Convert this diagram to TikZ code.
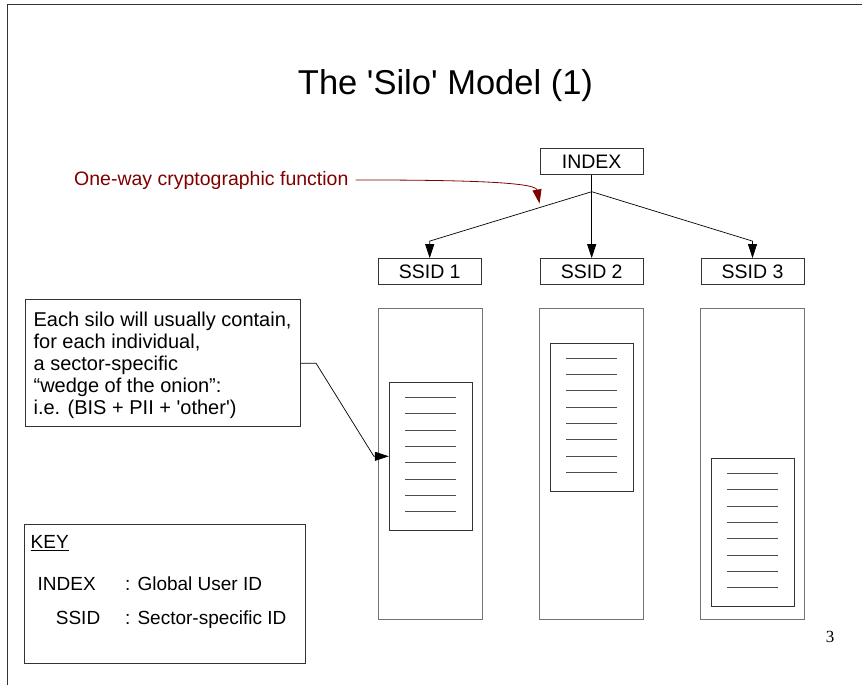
\documentclass[tikz,border=0pt]{standalone}
\usepackage{fontspec}
\setmainfont{Liberation Sans}
\newfontfamily\slidenumfont{Liberation Serif}
\usetikzlibrary{arrows.meta,calc}
\definecolor{darkmaroon}{RGB}{128,0,0}
\tikzset{
    >={Triangle[length=14pt,width=9pt]},
    silomodel/.style={
        idbox/.append style={draw=black!80,line width=.8pt,minimum width=103pt,minimum height=26pt,inner sep=0pt,font=\fontsize{19.5}{21}\selectfont},
        silobox/.append style={draw=black!55,line width=1.1pt,minimum width=104pt,minimum height=311pt,inner sep=0pt},
        recbox/.append style={draw=black!80,line width=.9pt,minimum width=83pt,minimum height=148pt,inner sep=0pt},
        recline/.append style={draw=black!70,line width=.9pt},
        note/.append style={draw=black!80,line width=.8pt,minimum width=275pt,minimum height=127pt,inner sep=0pt},
        notetext/.append style={inner sep=0pt,align=left,font=\fontsize{20}{22}\selectfont},
        keybox/.append style={draw=black!80,line width=.8pt,minimum width=281pt,minimum height=139pt,inner sep=0pt},
        keytext/.append style={inner sep=0pt,font=\fontsize{19}{21}\selectfont},
        link/.append style={draw=black,line width=.7pt,->},
        crypto/.append style={draw=darkmaroon,line width=.8pt,->}
    }
}

\begin{document}
\begin{tikzpicture}[silomodel,x=1pt,y=-1pt]
    \useasboundingbox (0,0) rectangle (862,685);
    \draw[black!80,line width=1.5pt] (7.5,690) -- (7.5,4.5) -- (870,4.5);
    \node[anchor=base,font=\fontsize{34.5}{40}\selectfont] (title) at (445.5,95) {The \textquotesingle Silo\textquotesingle\ Model (1)};
    % index and sector ids
    \node[idbox] (index) at (591.7,161.3) {INDEX};
    \node[idbox] (ssid1) at (429.7,271.5) {SSID 1};
    \node[idbox] (ssid2) at (591.7,271.5) {SSID 2};
    \node[idbox] (ssid3) at (752.5,271.5) {SSID 3};
    \coordinate (fork) at (591.7,191.7);
    \draw[link,-] (index) -- (fork);
    \draw[link] (fork) -- ($(ssid1.north)+(0,-17)$) -- (ssid1);
    \draw[link] (fork) -- (ssid2);
    \draw[link] (fork) -- ($(ssid3.north)+(0,-17)$) -- (ssid3);
    % silos
    \node[silobox] (silo1) at (430.2,464.3) {};
    \node[silobox] (silo2) at (591.7,464.3) {};
    \node[silobox] (silo3) at (752.2,464.3) {};
    \node[recbox] (rec1) at (430.8,456.3) {};
    \node[recbox] (rec2) at (591.5,417) {};
    \node[recbox] (rec3) at (752.8,532.3) {};
    \foreach \r in {rec1,rec2,rec3}
        \foreach \k in {0,...,7}
            \draw[recline] ($(\r)+(-25.5,-59+16.35*\k)$) -- ++(51,0);
    % callout
    \node[note] (note) at (163.2,363.3) {};
    \node[notetext,anchor=north west] (notetext) at (33.4,311.4) {Each silo will usually contain,\\for each individual,\\a sector-specific\\“wedge of the onion”:\\i.e. (BIS + PII + \textquotesingle other\textquotesingle)};
    \coordinate (noteknee) at ($(rec1.west)+(-15,0)$);
    \draw[link] (note.east) -- ++(15,0) -- (noteknee) -- (rec1);
    % one-way function
    \node[anchor=base west,inner sep=0pt,text=darkmaroon,font=\fontsize{19.5}{21}\selectfont] (owf) at (74,185) {One-way cryptographic function};
    \coordinate (owftip) at (539.5,203.5);
    \draw[crypto] ([xshift=7pt]owf.east) .. controls +(95,0) and +(-4,-22) .. (owftip);
    % key
    \node[keybox] (key) at (165,593.7) {};
    \node[keytext,anchor=base west] (keytitle) at (30.5,548.3) {\underline{KEY}};
    \node[keytext,anchor=base west] (keyindex) at (37.5,590) {INDEX};
    \node[keytext,anchor=base west] (keyindexdef) at (125,590) {: Global User ID};
    \node[keytext,anchor=base west] (keyssid) at (55.7,624.5) {SSID};
    \node[keytext,anchor=base west] (keyssiddef) at (125,624.5) {: Sector-specific ID};
    \node[font=\slidenumfont\fontsize{17}{20}\selectfont] (pagenum) at (830,636.5) {3};
\end{tikzpicture}
\end{document}
